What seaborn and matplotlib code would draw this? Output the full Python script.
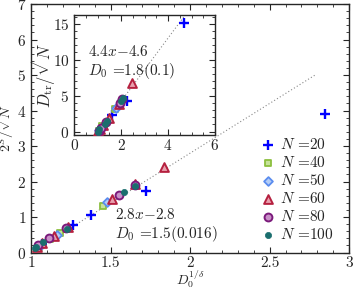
import matplotlib
matplotlib.use("Agg")
import matplotlib.pyplot as plt
import seaborn as sns
import numpy as np
from matplotlib.ticker import MultipleLocator

sns.set_style("ticks")
plt.rcParams['font.family'] = 'serif'
plt.rcParams['font.serif'] = ['cmr10']
plt.rcParams['mathtext.fontset'] = 'cm'
plt.rcParams['axes.formatter.use_mathtext'] = True
plt.rcParams['axes.unicode_minus'] = False

labels = ["20", "40", "50", "60", "80", "100"]

# main panel data: D0^(1/delta) vs 2^S/sqrt(N)
main_x = {
    "20": [1.07, 1.263, 1.374, 1.72, 2.847],
    "40": [1.05, 1.12, 1.18, 1.453],
    "50": [1.06, 1.16, 1.478],
    "60": [1.04, 1.066, 1.146, 1.234, 1.51, 1.652, 1.834],
    "80": [1.045, 1.11, 1.22, 1.556, 1.652],
    "100": [1.023, 1.033, 1.075, 1.228, 1.587, 1.652],
}
main_y = {
    "20": [0.24, 0.78, 1.06, 1.74, 3.91],
    "40": [0.17, 0.38, 0.56, 1.32],
    "50": [0.20, 0.49, 1.42],
    "60": [0.16, 0.26, 0.48, 0.72, 1.50, 1.93, 2.42],
    "80": [0.20, 0.40, 0.68, 1.62, 1.90],
    "100": [0.12, 0.16, 0.30, 0.66, 1.70, 1.88],
}
# inset data: D0^(1/delta) vs D_tr/sqrt(N)
ins_x = {
    "20": [1.10, 1.62, 2.25, 4.68],
    "40": [1.05, 1.20, 1.75],
    "50": [1.06, 1.18, 1.80],
    "60": [1.03, 1.10, 1.25, 1.50, 1.90, 2.46],
    "80": [1.04, 1.15, 1.35, 1.95, 2.05],
    "100": [1.02, 1.08, 1.30, 1.40, 2.00, 2.10],
}
ins_y = {
    "20": [0.3, 2.36, 4.3, 15.1],
    "40": [0.1, 0.8, 3.1],
    "50": [0.15, 0.7, 3.3],
    "60": [0.05, 0.3, 0.9, 1.9, 3.8, 6.7],
    "80": [0.1, 0.5, 1.3, 4.0, 4.5],
    "100": [0.0, 0.3, 1.1, 1.5, 4.2, 4.6],
}
main_fit = (2.8, -2.8)
main_fit_range = [1.0, 2.79]
ins_fit = (4.4, -4.6)
ins_fit_range = [1.0, 5.0]

styles = {
    "20": dict(marker="+", color="#0000ff", s=50, linewidth=1.7),
    "40": dict(marker="s", color="#c6e29a", edgecolor="#8cbf3f", s=22, linewidth=1.3),
    "50": dict(marker="D", color="#b4cdf6", edgecolor="#5b8def", s=20, linewidth=1.3),
    "60": dict(marker="^", color="#e8a0ae", edgecolor="#b5203f", s=40, linewidth=1.4),
    "80": dict(marker="o", color="#c890c8", edgecolor="#7b1a7b", s=32, linewidth=1.4),
    "100": dict(marker="o", color="#1a6e6e", edgecolor="#1a6e6e", s=20, linewidth=0.5),
}

fig = plt.figure(figsize=(3.53, 2.90), dpi=100)
ax = fig.add_axes([0.088, 0.129, 0.901, 0.857])
axin = fig.add_axes([0.21, 0.534, 0.399, 0.414])

for lab in labels:
    sns.scatterplot(x=main_x[lab], y=main_y[lab], ax=ax, label=r"$N$ =" + lab,
                    zorder=3, **styles[lab])
    sns.scatterplot(x=ins_x[lab], y=ins_y[lab], ax=axin, zorder=3, legend=False,
                    **styles[lab])

fx = np.array(main_fit_range)
ax.plot(fx, main_fit[0] * fx + main_fit[1], ls=(0, (1, 2)), color="#888888", lw=0.8, zorder=2)
fi = np.array(ins_fit_range)
axin.plot(fi, ins_fit[0] * fi + ins_fit[1], ls=(0, (1, 2)), color="#888888", lw=0.8, zorder=2)

ax.set_xlim(1, 3)
ax.set_ylim(0, 7)
ax.xaxis.set_major_locator(MultipleLocator(0.5))
ax.xaxis.set_minor_locator(MultipleLocator(0.1))
ax.yaxis.set_major_locator(MultipleLocator(1))
ax.yaxis.set_minor_locator(MultipleLocator(0.2))
ax.set_xticks([1, 1.5, 2, 2.5, 3])
ax.set_xticklabels(["1", "1.5", "2", "2.5", "3"])
ax.set_xlabel(r"$D_0^{1/\delta}$", fontsize=10)
ax.xaxis.set_label_coords(0.5, -0.064)
ax.set_ylabel(r"$2^S/\sqrt{N}$", fontsize=10)
ax.yaxis.set_label_coords(-0.046, 0.5)

axin.set_xlim(0, 6)
axin.set_ylim(-0.5, 16.2)
axin.xaxis.set_major_locator(MultipleLocator(2))
axin.xaxis.set_minor_locator(MultipleLocator(0.5))
axin.yaxis.set_major_locator(MultipleLocator(5))
axin.yaxis.set_minor_locator(MultipleLocator(1))
axin.set_ylabel(r"$D_{\rm tr}/\sqrt{N}$", fontsize=12)
axin.yaxis.set_label_coords(-0.125, 0.5)

for a in (ax, axin):
    a.tick_params(which="both", direction="in", top=True, right=True, labelsize=11)
    a.tick_params(which="major", length=4, width=0.8)
    a.tick_params(which="minor", length=2, width=0.6)
    for sp in a.spines.values():
        sp.set_linewidth(1.0)
axin.tick_params(axis="x", pad=2)
ax.tick_params(axis="x", pad=3)

ax.text(1.527, 0.25, r"2.8$x{-}$2.8" + "\n" + r"$D_0$ =1.5(0.016)", fontsize=11,
        va="bottom", ha="left", linespacing=1.15)
axin.text(0.6, 7.0, r"4.4$x{-}$4.6" + "\n" + r"$D_0$ =1.8(0.1)", fontsize=11,
          va="bottom", ha="left", linespacing=1.15)

ax.legend(loc="lower right", frameon=False, fontsize=11, handletextpad=0.2,
          labelspacing=0.2, borderaxespad=0.3, handlelength=1.2,
          bbox_to_anchor=(0.985, 0.0))

fig.savefig("out.png", dpi=100)
